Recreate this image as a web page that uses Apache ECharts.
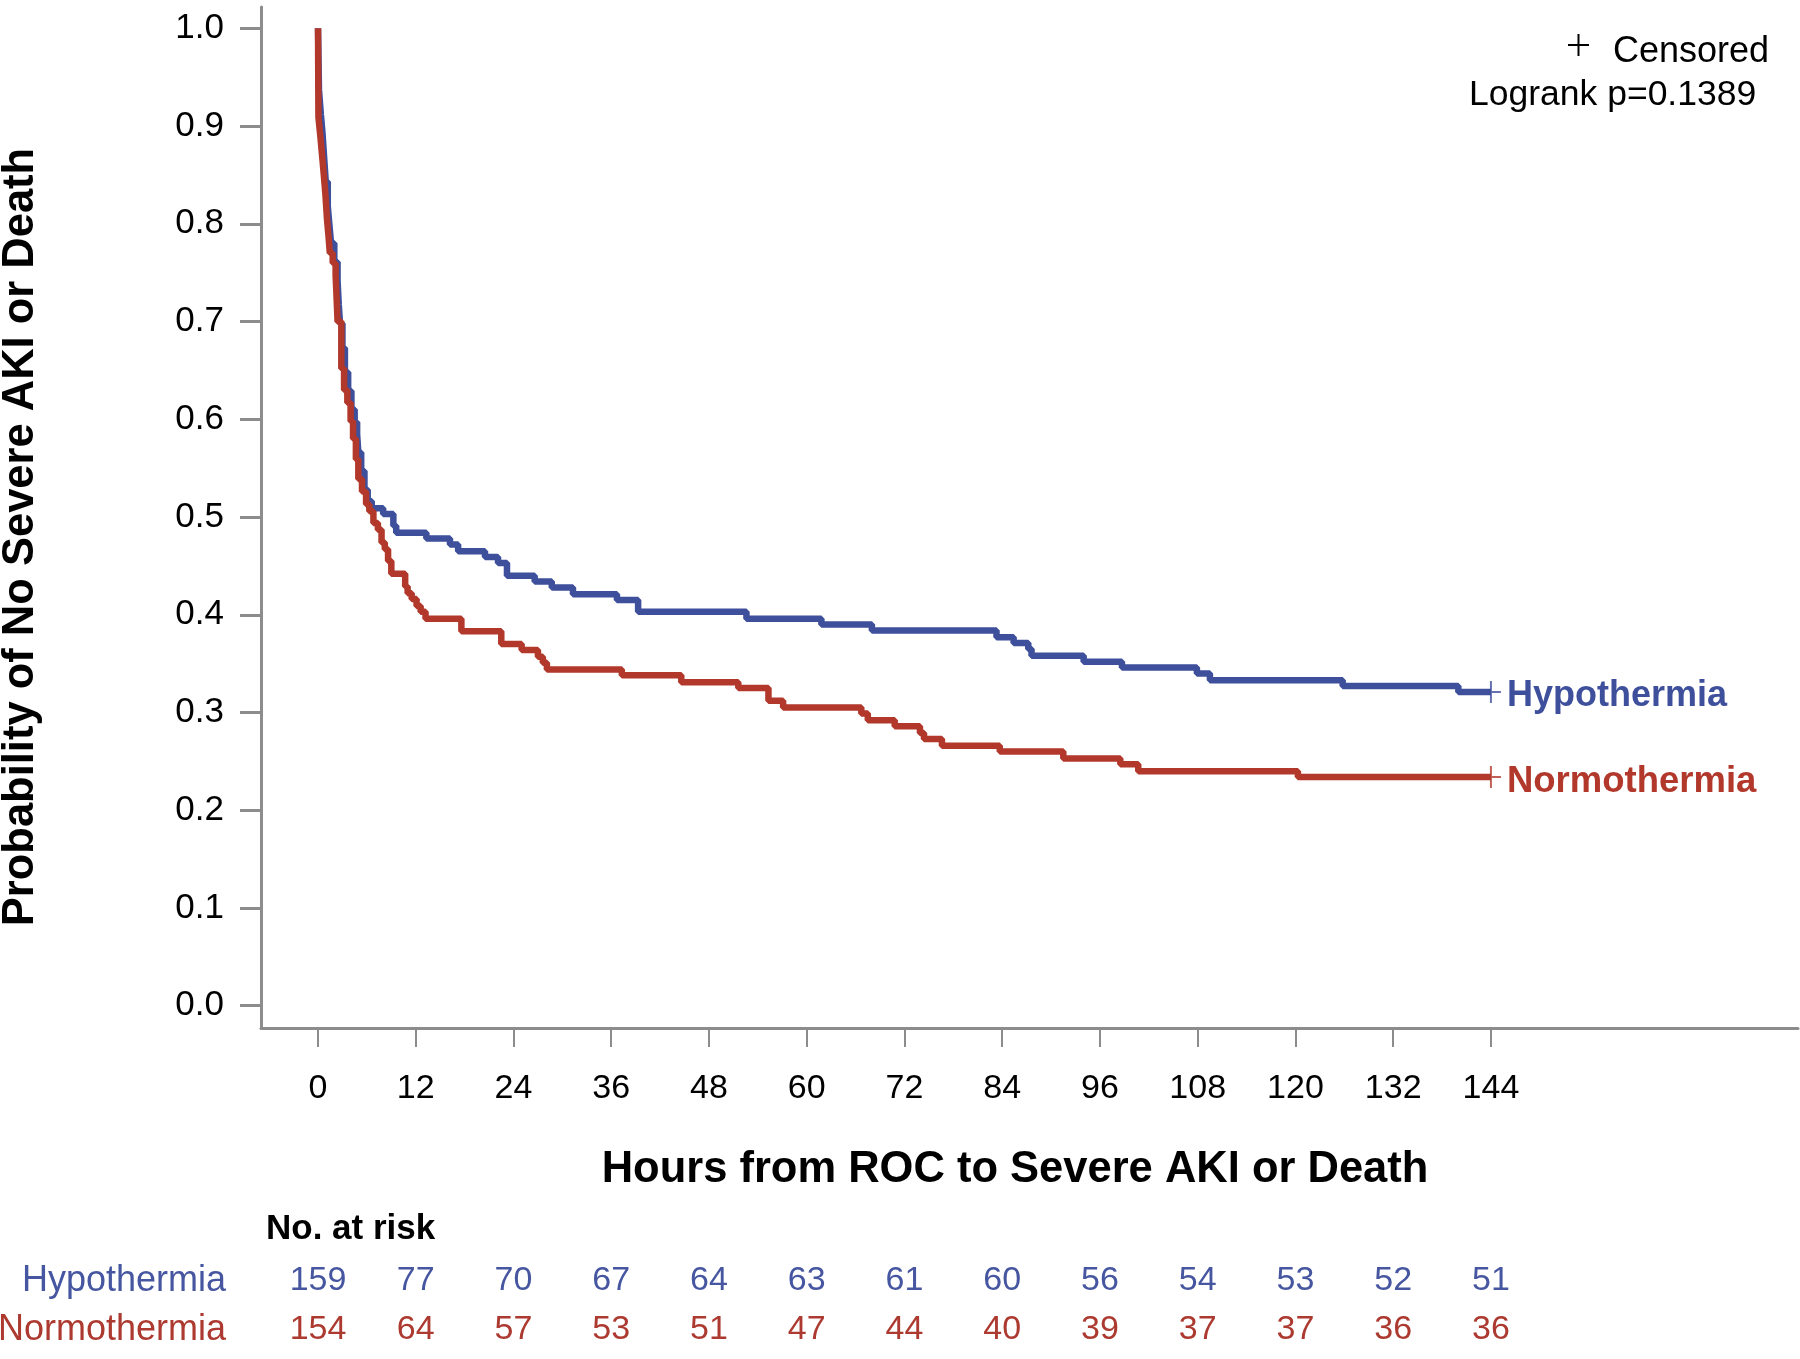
<!DOCTYPE html>
<html>
<head>
<meta charset="utf-8">
<script src="https://cdn.jsdelivr.net/npm/echarts@6/dist/echarts.min.js"></script>
<style>
html,body{margin:0;padding:0;background:#ffffff;}
#chart{width:1800px;height:1359px;}
</style>
</head>
<body>
<div id="chart"></div>
<script>
// ---------------- DATA ----------------
const groupNames = ['Hypothermia', 'Normothermia'];

// Kaplan-Meier step points (time in hours, survival probability)
const hypoTime = [0, 0.12, 0.35, 0.55, 0.75, 0.95, 1.2, 1.4, 1.6, 2.0, 2.4, 2.55, 2.7, 3.0, 3.3, 3.7, 4.1, 4.5, 4.8, 4.95, 5.3, 5.7, 6.1, 6.6,
  8.0, 9.25, 9.6, 13.3, 16.2, 17.2, 20.5, 22.1, 23.2, 26.6, 28.7, 31.3, 36.7, 39.3, 52.6, 61.8, 68.0,
  83.3, 85.4, 87.2, 87.6, 94.0, 98.7, 107.9, 109.5, 125.8, 140.0, 144];
const hypoSurv = [1.0, 0.937, 0.912, 0.893, 0.868, 0.843, 0.818, 0.799, 0.780, 0.761, 0.742, 0.717, 0.698, 0.673, 0.648, 0.629, 0.610, 0.597, 0.585, 0.566, 0.547, 0.528, 0.516, 0.509,
  0.503, 0.491, 0.484, 0.478, 0.472, 0.465, 0.459, 0.453, 0.440, 0.434, 0.428, 0.421, 0.415, 0.403, 0.396, 0.390, 0.384,
  0.377, 0.371, 0.365, 0.358, 0.352, 0.346, 0.340, 0.333, 0.327, 0.321, 0.321];

const normoTime = [0, 0.05, 0.28, 0.5, 0.7, 0.9, 1.1, 1.3, 1.45, 1.8, 2.16, 2.2, 2.3, 2.4, 2.86, 3.2, 3.6, 4.0, 4.3, 4.65, 4.95, 5.4, 5.9, 6.3,
  6.8, 7.35, 7.8, 8.2, 8.6, 9.0, 10.7, 11.0, 11.5, 12.1, 12.6, 13.2, 17.6, 22.5, 25.0, 27.0, 27.6, 28.1, 37.3, 44.6,
  51.6, 55.3, 57.1, 66.7, 67.5, 70.8, 73.9, 74.4, 76.6, 83.7, 91.5, 98.5, 100.7, 120.3, 144];
const normoSurv = [1.0, 0.909, 0.890, 0.870, 0.851, 0.831, 0.805, 0.786, 0.770, 0.760, 0.747, 0.740, 0.720, 0.700, 0.652, 0.630, 0.617, 0.598, 0.580, 0.559, 0.539, 0.526, 0.513, 0.506,
  0.494, 0.487, 0.474, 0.467, 0.455, 0.442, 0.429, 0.422, 0.416, 0.409, 0.403, 0.396, 0.383, 0.370, 0.364, 0.357, 0.351, 0.344, 0.338, 0.331,
  0.325, 0.312, 0.305, 0.299, 0.292, 0.286, 0.279, 0.273, 0.266, 0.260, 0.253, 0.247, 0.240, 0.234, 0.234];

// censored marks
const hypoCensored = [[144, 0.321]];
const normoCensored = [[144, 0.234]];

// ticks and at-risk table
const xTicks = [0, 12, 24, 36, 48, 60, 72, 84, 96, 108, 120, 132, 144];
const yTicks = [0, 0.1, 0.2, 0.3, 0.4, 0.5, 0.6, 0.7, 0.8, 0.9, 1.0];
const hypoAtRisk = [159, 77, 70, 67, 64, 63, 61, 60, 56, 54, 53, 52, 51];
const normoAtRisk = [154, 64, 57, 53, 51, 47, 44, 40, 39, 37, 37, 36, 36];

const xTitle = 'Hours from ROC to Severe AKI or Death';
const yTitle = 'Probability of No Severe AKI or Death';
const pText = 'Logrank p=0.1389';

// ---------------- STYLE ----------------
const FONT = '"Liberation Sans", Arial, Helvetica, sans-serif';
const BLUE = '#3e4f9c';
const RED = '#b2382c';
const BLUE_T = '#4656a0';
const RED_T = '#ac3a30';
const AXIS = '#8c8c8c';
const X_MIN = -7, X_MAX = 181.7;

const chart = echarts.init(document.getElementById('chart'), null, {renderer: 'canvas'});

function riskAxis(values, color, offset) {
  return {
    type: 'value', min: X_MIN, max: X_MAX, position: 'bottom', offset: offset, gridIndex: 0,
    axisLine: {show: false}, axisTick: {show: false}, splitLine: {show: false},
    axisLabel: {
      customValues: xTicks, margin: 0, verticalAlign: 'middle',
      formatter: function (v) { const i = xTicks.indexOf(Math.round(v)); return i >= 0 ? String(values[i]) : ''; },
      color: color, fontSize: 34, fontFamily: FONT
    }
  };
}

const plusPath = 'path://M9,0h2v22h-2z M0,10h20v2h-20z';

const option = {
  animation: false,
  backgroundColor: '#ffffff',
  grid: {left: 261, right: 2, top: 7, bottom: 331, containLabel: false},
  xAxis: [
    {
      type: 'value', min: X_MIN, max: X_MAX, position: 'bottom', gridIndex: 0,
      axisLine: {show: true, onZero: false, lineStyle: {color: AXIS, width: 3}},
      axisTick: {show: true, customValues: xTicks, length: 19, lineStyle: {color: AXIS, width: 2}},
      axisLabel: {customValues: xTicks, margin: 61, verticalAlign: 'middle', color: '#000', fontSize: 34, fontFamily: FONT},
      splitLine: {show: false}
    },
    riskAxis(hypoAtRisk, BLUE_T, 253),
    riskAxis(normoAtRisk, RED_T, 302)
  ],
  yAxis: {
    type: 'value', min: -0.0228, max: 1.0218,
    axisLine: {show: true, onZero: false, lineStyle: {color: AXIS, width: 3}},
    axisTick: {show: true, customValues: yTicks, length: 21, lineStyle: {color: AXIS, width: 3}},
    axisLabel: {customValues: yTicks, margin: 37, color: '#000', fontSize: 35, fontFamily: FONT,
      formatter: function (v) { return v.toFixed(1); }},
    splitLine: {show: false}
  },
  series: [
    {
      name: groupNames[0], type: 'line', step: 'end', showSymbol: false, symbol: 'none',
      data: hypoTime.map((t, i) => [t, hypoSurv[i]]),
      lineStyle: {color: BLUE, width: 6.5}, itemStyle: {color: BLUE}, z: 2,
      endLabel: {show: true, formatter: '{a}', distance: 16, offset: [0, 4], color: BLUE, fontWeight: 'bold', fontSize: 36, fontFamily: FONT}
    },
    {
      name: groupNames[1], type: 'line', step: 'end', showSymbol: false, symbol: 'none',
      data: normoTime.map((t, i) => [t, normoSurv[i]]),
      lineStyle: {color: RED, width: 6.5}, itemStyle: {color: RED}, z: 3,
      endLabel: {show: true, formatter: '{a}', distance: 16, offset: [0, 5], color: RED, fontWeight: 'bold', fontSize: 36.5, fontFamily: FONT}
    },
    {
      name: 'hypoCens', type: 'scatter', data: hypoCensored, symbol: plusPath, symbolSize: [20, 22],
      itemStyle: {color: BLUE}, z: 4, silent: true
    },
    {
      name: 'normoCens', type: 'scatter', data: normoCensored, symbol: plusPath, symbolSize: [20, 22],
      itemStyle: {color: RED}, z: 4, silent: true
    }
  ],
  graphic: [
    {type: 'text', x: 21, y: 537, rotation: Math.PI / 2,
      style: {text: yTitle, fontSize: 43.5, fontWeight: 'bold', fontFamily: FONT, fill: '#000', textAlign: 'center', textVerticalAlign: 'middle', align: 'center', verticalAlign: 'middle'}},
    {type: 'text', x: 1015, y: 1170,
      style: {text: xTitle, fontSize: 43.5, fontWeight: 'bold', fontFamily: FONT, fill: '#000', textAlign: 'center', textVerticalAlign: 'middle', align: 'center', verticalAlign: 'middle'}},
    {type: 'text', x: 266, y: 1229,
      style: {text: 'No. at risk', fontSize: 35, fontWeight: 'bold', fontFamily: FONT, fill: '#000', textAlign: 'left', textVerticalAlign: 'middle', align: 'left', verticalAlign: 'middle'}},
    {type: 'text', x: 226, y: 1281,
      style: {text: groupNames[0], fontSize: 36, fontFamily: FONT, fill: BLUE_T, textAlign: 'right', textVerticalAlign: 'middle', align: 'right', verticalAlign: 'middle'}},
    {type: 'text', x: 226, y: 1330,
      style: {text: groupNames[1], fontSize: 36, fontFamily: FONT, fill: RED_T, textAlign: 'right', textVerticalAlign: 'middle', align: 'right', verticalAlign: 'middle'}},
    {type: 'line', shape: {x1: 1568, y1: 45, x2: 1589, y2: 45}, style: {stroke: '#000', lineWidth: 2}},
    {type: 'line', shape: {x1: 1578.5, y1: 34, x2: 1578.5, y2: 56}, style: {stroke: '#000', lineWidth: 2}},
    {type: 'text', x: 1613, y: 52,
      style: {text: 'Censored', fontSize: 36, fontFamily: FONT, fill: '#000', textAlign: 'left', textVerticalAlign: 'middle', align: 'left', verticalAlign: 'middle'}},
    {type: 'text', x: 1469, y: 95,
      style: {text: pText, fontSize: 35.5, fontFamily: FONT, fill: '#000', textAlign: 'left', textVerticalAlign: 'middle', align: 'left', verticalAlign: 'middle'}}
  ]
};
chart.setOption(option);
</script>
</body>
</html>
